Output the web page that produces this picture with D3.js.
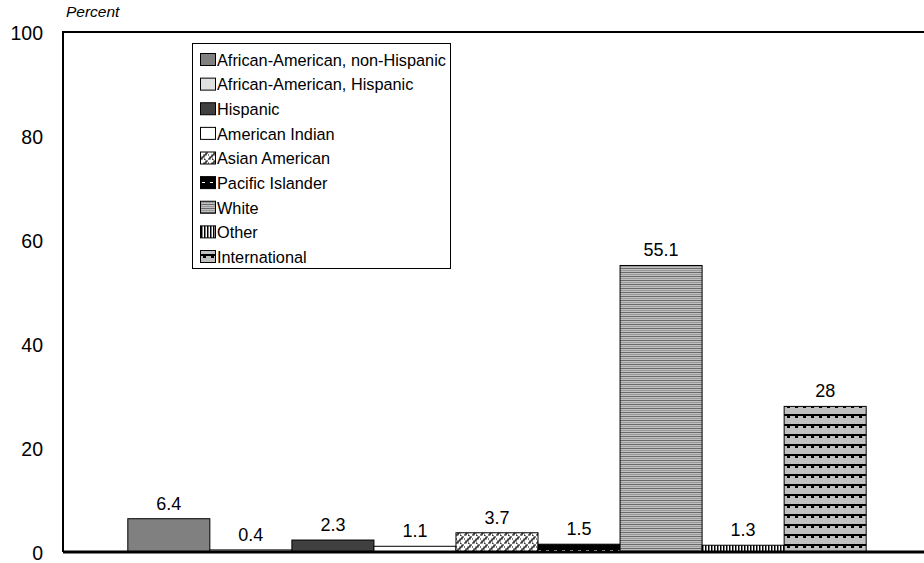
<!DOCTYPE html>
<html>
<head>
<meta charset="utf-8">
<script src="https://cdn.jsdelivr.net/npm/d3@7"></script>
<style>
html,body{margin:0;padding:0;background:#fff;}
svg{display:block;font-family:"Liberation Sans",Arial,sans-serif;}
</style>
</head>
<body>
<svg id="chart" width="924" height="563"></svg>
<script>
const categories = ["African-American, non-Hispanic","African-American, Hispanic","Hispanic","American Indian","Asian American","Pacific Islander","White","Other","International"];
const values = [6.4, 0.4, 2.3, 1.1, 3.7, 1.5, 55.1, 1.3, 28];
const valueLabels = ["6.4","0.4","2.3","1.1","3.7","1.5","55.1","1.3","28"];
const yTicks = [0, 20, 40, 60, 80, 100];

const svg = d3.select("#chart");
const defs = svg.append("defs");

// patterns
function pat(id, w, h, bg, draw){
  const p = defs.append("pattern").attr("id", id).attr("patternUnits","userSpaceOnUse")
    .attr("width", w).attr("height", h);
  p.append("rect").attr("width", w).attr("height", h).attr("fill", bg);
  if (draw) draw(p);
}
pat("p0", 4, 4, "#808080");
pat("p1", 4, 4, "#e0e0e0");
pat("p2", 4, 4, "#404040");
pat("p3", 4, 4, "#ffffff");
pat("p4", 8, 8, "#ffffff", p => {
  p.append("path").attr("d","M0,7 L2,7 L2,5 L4,5 L4,3 L6,3 L6,1 L8,1").attr("fill","none").attr("stroke","#000").attr("stroke-width",1.2);
  p.append("path").attr("d","M0,3 L1,3 M4,7 L5,7 L5,8").attr("fill","none").attr("stroke","#000").attr("stroke-width",1);
});
pat("p5", 8, 8, "#000000", p => {
  p.append("rect").attr("x",2).attr("y",6).attr("width",3).attr("height",1).attr("fill","#fff");
});
pat("p6", 4, 4, "#c0c0c0", p => {
  p.append("rect").attr("x",0).attr("y",0).attr("width",4).attr("height",1).attr("fill","#6a6a6a");
  p.append("rect").attr("x",0).attr("y",2).attr("width",4).attr("height",1).attr("fill","#9a9a9a");
});
pat("p7", 3, 4, "#ffffff", p => {
  p.append("rect").attr("x",0).attr("y",0).attr("width",1).attr("height",4).attr("fill","#000");
  p.append("rect").attr("x",1).attr("y",0).attr("width",1).attr("height",4).attr("fill","#808080");
});
pat("p8", 8, 10, "#c0c0c0", p => {
  p.append("rect").attr("x",0).attr("y",4).attr("width",8).attr("height",2).attr("fill","#000");
  p.append("rect").attr("x",3).attr("y",6).attr("width",3).attr("height",2).attr("fill","#000");
});

const pLeft = 63, pRight = 931, pTop = 32, pBottom = 552;
const x = d3.scaleBand().domain(categories).range([pLeft, pRight]).paddingInner(0).paddingOuter(0.79);
const y = d3.scaleLinear().domain([0, 100]).range([pBottom, pTop]);

// frame
svg.append("line").attr("x1", pLeft).attr("x2", pRight).attr("y1", pTop).attr("y2", pTop).attr("stroke","#000").attr("stroke-width",2);
svg.append("line").attr("x1", pLeft).attr("x2", pLeft).attr("y1", pTop-1).attr("y2", pBottom).attr("stroke","#000").attr("stroke-width",2);
svg.append("line").attr("x1", pRight).attr("x2", pRight).attr("y1", pTop).attr("y2", pBottom).attr("stroke","#000").attr("stroke-width",2);

// y axis labels
const yAxis = d3.axisLeft(y).tickValues(yTicks).tickSize(0).tickPadding(0).tickFormat(d3.format("d"));
const ga = svg.append("g").attr("transform", `translate(43,1)`).call(yAxis);
ga.select(".domain").remove();
ga.selectAll("text").attr("font-size", 19.5).attr("font-family","Liberation Sans, Arial, sans-serif").attr("fill","#000").attr("dy","0.35em");

svg.append("text").attr("x", 66).attr("y", 17).attr("font-size", 15.5).attr("font-style","italic").text("Percent");

// bars
svg.append("g").selectAll("rect").data(categories).join("rect")
  .attr("x", d => x(d))
  .attr("y", (d,i) => y(values[i]))
  .attr("width", x.bandwidth())
  .attr("height", (d,i) => y(0) - y(values[i]))
  .attr("fill", (d,i) => `url(#p${i})`)
  .attr("stroke", "#000").attr("stroke-width", 1);

svg.append("g").selectAll("text").data(categories).join("text")
  .attr("x", d => x(d) + x.bandwidth()/2)
  .attr("y", (d,i) => y(values[i]) - 9)
  .attr("text-anchor","middle").attr("font-size", 18)
  .text((d,i) => valueLabels[i]);

// bottom axis line
svg.append("line").attr("x1", pLeft).attr("x2", pRight).attr("y1", pBottom).attr("y2", pBottom).attr("stroke","#000").attr("stroke-width",3);

// legend
const lg = svg.append("g");
lg.append("rect").attr("x", 192.5).attr("y", 43.5).attr("width", 258).attr("height", 225).attr("fill","#fff").attr("stroke","#000").attr("stroke-width",1);
const ly = d3.scalePoint().domain(categories).range([60, 257]);
categories.forEach((c, i) => {
  lg.append("rect").attr("x", 200.5).attr("y", ly(c) - 6.5).attr("width", 15).attr("height", 12)
    .attr("fill", `url(#p${i})`).attr("stroke","#000").attr("stroke-width",1);
  lg.append("text").attr("x", 217).attr("y", ly(c)).attr("dy","0.36em").attr("font-size", 16.3).text(c);
});
</script>
</body>
</html>
